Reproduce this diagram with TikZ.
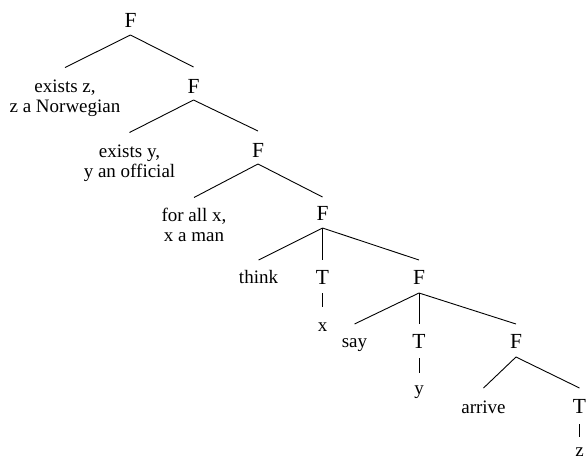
\documentclass[tikz,border=0pt]{standalone}
\usepackage{fontspec}
\setmainfont{Liberation Serif}
\usetikzlibrary{calc}
\begin{document}
\begin{tikzpicture}[x=1pt,y=-1pt,
  cat/.style={font=\fontsize{21.5}{24}\selectfont, inner sep=0pt, anchor=base},
  lab/.style={font=\fontsize{19}{20}\selectfont, inner sep=0pt, anchor=base},
  mlab/.style={font=\fontsize{19}{20}\selectfont, inner sep=0pt, anchor=north, align=center},
  edge/.style={line width=0.9pt, black}]
\useasboundingbox (0,0) rectangle (586,461);
% nodes
\node[cat] (f0) at (130.5,27) {F};
\node[mlab] (l1) at (65,79.5) {exists z,\\z a Norwegian};
\node[cat] (f1) at (193.5,93) {F};
\node[mlab] (l2) at (129.5,144.5) {exists y,\\y an official};
\node[cat] (f2) at (258,157) {F};
\node[mlab] (l3) at (194,207.5) {for all x,\\x a man};
\node[cat] (f3) at (322.5,220) {F};
\node[lab] (think) at (258.5,283) {think};
\node[cat] (t1) at (322.5,284) {T};
\node[lab] (vx) at (322.5,331) {x};
\node[cat] (f4) at (419,284) {F};
\node[lab] (say) at (354.5,347) {say};
\node[cat] (t2) at (419,348) {T};
\node[lab] (vy) at (419,394) {y};
\node[cat] (f5) at (516,348) {F};
\node[lab] (arrive) at (483.5,413) {arrive};
\node[cat] (t3) at (579.5,413) {T};
\node[lab] (vz) at (579.5,456.5) {z};
% connectors
\draw[edge] ($(f0.base)+(0,8)$) -- ($(l1.north)+(0,-12)$);
\draw[edge] ($(f0.base)+(0,8)$) -- ($(f1.base)+(0,-26)$);
\draw[edge] ($(f1.base)+(0,7)$) -- ($(l2.north)+(0,-12)$);
\draw[edge] ($(f1.base)+(0,7)$) -- ($(f2.base)+(0,-26)$);
\draw[edge] ($(f2.base)+(0,7)$) -- ($(l3.north)+(0,-10)$);
\draw[edge] ($(f2.base)+(0,7)$) -- ($(f3.base)+(0,-23)$);
\draw[edge] ($(f3.base)+(0,8)$) -- ($(think.base)+(0,-23)$);
\draw[edge] ($(f3.base)+(0,8)$) -- ($(t1.base)+(0,-24)$);
\draw[edge] ($(f3.base)+(0,8)$) -- ($(f4.base)+(0,-24)$);
\draw[edge] ($(t1.base)+(0,9)$) -- ($(vx.base)+(0,-24)$);
\draw[edge] ($(f4.base)+(0,9)$) -- ($(say.base)+(0,-23)$);
\draw[edge] ($(f4.base)+(0,9)$) -- ($(t2.base)+(0,-24)$);
\draw[edge] ($(f4.base)+(0,9)$) -- ($(f5.base)+(0,-24)$);
\draw[edge] ($(t2.base)+(0,10)$) -- ($(vy.base)+(0,-21)$);
\draw[edge] ($(f5.base)+(0,9)$) -- ($(arrive.base)+(0,-25)$);
\draw[edge] ($(f5.base)+(0,9)$) -- ($(t3.base)+(0,-25)$);
\draw[edge] ($(t3.base)+(0,11)$) -- ($(vz.base)+(0,-19.5)$);
\end{tikzpicture}
\end{document}
